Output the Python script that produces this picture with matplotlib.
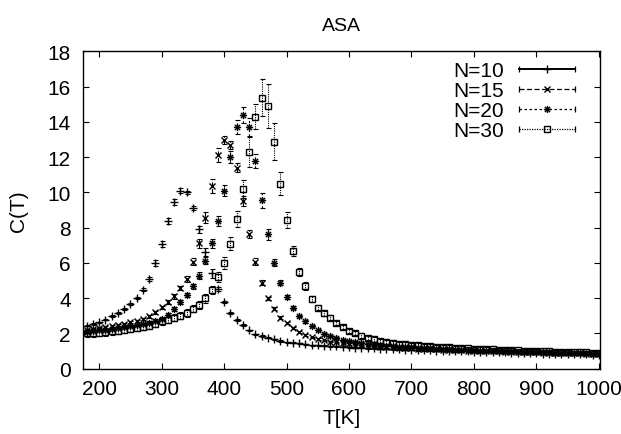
# Import libraries
import matplotlib
matplotlib.use('Agg')
import matplotlib.pyplot as plt
from matplotlib.lines import Line2D
from matplotlib.path import Path
from matplotlib.legend_handler import HandlerBase
import numpy as np

# Temperatures, 180 K to 1000 K in steps of 10 K
temps = np.arange(180, 1001, 10)

# Specific heat C(T) for each chain length
c_n10 = [2.44, 2.53, 2.63, 2.78, 2.97, 3.18, 3.39, 3.67, 3.99, 4.48,
         5.09, 6.00, 7.09, 8.36, 9.45, 10.10, 10.00, 9.10, 7.90, 6.60,
         5.40, 4.50, 3.78, 3.17, 2.76, 2.48, 2.17, 1.95, 1.86, 1.76,
         1.67, 1.57, 1.51, 1.46, 1.44, 1.38, 1.34, 1.32, 1.30, 1.28,
         1.26, 1.24, 1.22, 1.20, 1.18, 1.17, 1.15, 1.13, 1.12, 1.10,
         1.09, 1.08, 1.07, 1.06, 1.05, 1.04, 1.03, 1.02, 1.01, 1.00,
         0.99, 0.98, 0.97, 0.96, 0.95, 0.94, 0.93, 0.92, 0.91, 0.90,
         0.89, 0.88, 0.87, 0.86, 0.85, 0.85, 0.84, 0.83, 0.82, 0.82,
         0.81, 0.80, 0.80]
e_n10 = [0.04, 0.04, 0.04, 0.04, 0.05, 0.05, 0.05, 0.06, 0.06, 0.08,
         0.10, 0.17, 0.17, 0.17, 0.17, 0.15, 0.10, 0.10, 0.20, 0.22,
         0.25, 0.12, 0.08, 0.06, 0.05, 0.04, 0.04, 0.04, 0.04, 0.04,
         0.03, 0.03, 0.03, 0.03, 0.03, 0.03, 0.03, 0.03, 0.03, 0.03,
         0.03, 0.03, 0.03, 0.03, 0.03, 0.03, 0.03, 0.03, 0.03, 0.03,
         0.03, 0.03, 0.03, 0.03, 0.03, 0.03, 0.03, 0.03, 0.03, 0.03,
         0.03, 0.03, 0.03, 0.03, 0.03, 0.03, 0.03, 0.03, 0.03, 0.03,
         0.03, 0.03, 0.03, 0.03, 0.03, 0.03, 0.03, 0.03, 0.03, 0.03,
         0.03, 0.03, 0.03]

c_n15 = [2.20, 2.25, 2.30, 2.36, 2.42, 2.48, 2.55, 2.63, 2.72, 2.82,
         2.97, 3.20, 3.48, 3.77, 4.10, 4.58, 5.09, 6.07, 7.11, 8.57,
         10.37, 12.10, 12.97, 12.70, 11.40, 9.50, 7.62, 6.07, 4.88, 3.99,
         3.40, 2.90, 2.61, 2.33, 2.08, 1.90, 1.78, 1.68, 1.60, 1.54,
         1.49, 1.44, 1.40, 1.36, 1.33, 1.30, 1.27, 1.25, 1.23, 1.21,
         1.19, 1.17, 1.15, 1.13, 1.12, 1.10, 1.09, 1.07, 1.06, 1.05,
         1.04, 1.03, 1.02, 1.01, 1.00, 0.99, 0.98, 0.97, 0.96, 0.95,
         0.94, 0.93, 0.92, 0.91, 0.90, 0.90, 0.89, 0.88, 0.87, 0.87,
         0.86, 0.85, 0.85]
e_n15 = [0.05, 0.05, 0.05, 0.05, 0.05, 0.05, 0.06, 0.06, 0.07, 0.07,
         0.08, 0.09, 0.10, 0.11, 0.12, 0.13, 0.15, 0.18, 0.25, 0.33,
         0.38, 0.40, 0.22, 0.24, 0.25, 0.28, 0.22, 0.18, 0.14, 0.10,
         0.08, 0.07, 0.06, 0.05, 0.05, 0.04, 0.04, 0.04, 0.04, 0.04,
         0.04, 0.04, 0.04, 0.04, 0.04, 0.04, 0.04, 0.04, 0.04, 0.04,
         0.04, 0.04, 0.04, 0.04, 0.04, 0.04, 0.04, 0.04, 0.04, 0.04,
         0.04, 0.04, 0.04, 0.04, 0.04, 0.04, 0.04, 0.04, 0.04, 0.04,
         0.04, 0.04, 0.04, 0.04, 0.04, 0.04, 0.04, 0.04, 0.04, 0.04,
         0.04, 0.04, 0.04]

c_n20 = [2.10, 2.13, 2.17, 2.21, 2.25, 2.30, 2.35, 2.41, 2.47, 2.54,
         2.62, 2.72, 2.84, 3.05, 3.39, 3.77, 4.18, 4.67, 5.28, 6.13,
         7.11, 8.40, 10.10, 12.00, 13.70, 14.40, 13.70, 11.80, 9.56, 7.62,
         6.00, 4.88, 4.07, 3.46, 2.99, 2.68, 2.40, 2.18, 1.98, 1.85,
         1.74, 1.65, 1.58, 1.52, 1.47, 1.42, 1.38, 1.34, 1.31, 1.28,
         1.25, 1.23, 1.21, 1.19, 1.17, 1.15, 1.13, 1.11, 1.10, 1.08,
         1.07, 1.05, 1.04, 1.03, 1.02, 1.01, 1.00, 0.99, 0.98, 0.97,
         0.96, 0.95, 0.94, 0.93, 0.92, 0.91, 0.90, 0.89, 0.88, 0.88,
         0.87, 0.86, 0.86]
e_n20 = [0.06, 0.06, 0.06, 0.06, 0.06, 0.06, 0.06, 0.06, 0.07, 0.07,
         0.07, 0.08, 0.09, 0.10, 0.11, 0.12, 0.14, 0.16, 0.20, 0.22,
         0.25, 0.28, 0.30, 0.35, 0.40, 0.45, 0.50, 0.40, 0.43, 0.30,
         0.20, 0.15, 0.12, 0.10, 0.08, 0.07, 0.06, 0.05, 0.05, 0.05,
         0.05, 0.05, 0.05, 0.05, 0.05, 0.05, 0.05, 0.05, 0.05, 0.05,
         0.05, 0.05, 0.05, 0.05, 0.05, 0.05, 0.05, 0.05, 0.05, 0.05,
         0.05, 0.05, 0.05, 0.05, 0.05, 0.05, 0.05, 0.05, 0.05, 0.05,
         0.05, 0.05, 0.05, 0.05, 0.05, 0.05, 0.05, 0.05, 0.05, 0.05,
         0.05, 0.05, 0.05]

c_n30 = [2.00, 2.02, 2.05, 2.08, 2.12, 2.16, 2.21, 2.26, 2.32, 2.38,
         2.45, 2.55, 2.69, 2.78, 2.88, 3.00, 3.16, 3.39, 3.63, 3.99,
         4.46, 5.18, 6.00, 7.10, 8.50, 10.20, 12.29, 14.30, 15.37, 14.90,
         12.88, 10.50, 8.42, 6.68, 5.48, 4.69, 3.97, 3.46, 3.14, 2.89,
         2.60, 2.35, 2.16, 2.03, 1.88, 1.76, 1.66, 1.57, 1.51, 1.46,
         1.42, 1.38, 1.35, 1.32, 1.29, 1.27, 1.25, 1.23, 1.21, 1.19,
         1.17, 1.15, 1.14, 1.12, 1.11, 1.09, 1.08, 1.06, 1.05, 1.04,
         1.03, 1.01, 1.00, 0.99, 0.98, 0.97, 0.96, 0.95, 0.94, 0.93,
         0.92, 0.91, 0.90]
e_n30 = [0.20, 0.20, 0.20, 0.20, 0.20, 0.20, 0.20, 0.20, 0.20, 0.20,
         0.20, 0.20, 0.20, 0.20, 0.20, 0.20, 0.20, 0.20, 0.22, 0.25,
         0.25, 0.28, 0.32, 0.35, 0.45, 0.50, 0.85, 0.70, 1.05, 1.25,
         1.03, 0.63, 0.45, 0.27, 0.22, 0.20, 0.18, 0.15, 0.14, 0.13,
         0.12, 0.12, 0.12, 0.12, 0.12, 0.12, 0.12, 0.12, 0.12, 0.12,
         0.11, 0.11, 0.11, 0.11, 0.11, 0.11, 0.11, 0.11, 0.11, 0.11,
         0.10, 0.10, 0.10, 0.10, 0.10, 0.10, 0.10, 0.10, 0.10, 0.10,
         0.09, 0.09, 0.09, 0.09, 0.09, 0.09, 0.09, 0.09, 0.09, 0.09,
         0.08, 0.08, 0.08]

labels = ['N=10', 'N=15', 'N=20', 'N=30']
x_ticks = [200, 300, 400, 500, 600, 700, 800, 900, 1000]
y_ticks = [0, 2, 4, 6, 8, 10, 12, 14, 16, 18]

# gnuplot style point type 3: a '+' on top of an 'x'
asterisk = Path([(-1, 0), (1, 0), (0, -1), (0, 1),
                 (-0.72, -0.72), (0.72, 0.72), (-0.72, 0.72), (0.72, -0.72)],
                [Path.MOVETO, Path.LINETO] * 4)

# Line style of each series, keyed by legend label
dash_styles = {'N=10': '-', 'N=15': (0, (4, 2)),
               'N=20': (0, (2, 2)), 'N=30': (0, (1, 1))}


class CapLineHandler(HandlerBase):
    """ Legend entry drawn the gnuplot way: a horizontal bar with
        end caps and the point symbol in the middle. """
    def create_artists(self, legend, orig, xdescent, ydescent, width,
                       height, fontsize, trans):
        y = height / 2.0 - ydescent
        x0, x1 = -xdescent, width - xdescent
        bar = Line2D([x0, x1], [y, y], color='k',
                     linestyle=dash_styles[orig.get_label()],
                     linewidth=orig.get_linewidth())
        caps = Line2D([x0, x1], [y, y], linestyle='none', marker='|',
                      markersize=5, markeredgewidth=0.9, color='k')
        mark = Line2D([(x0 + x1) / 2.0], [y], linestyle='none',
                      marker=orig.get_marker(),
                      markersize=orig.get_markersize(),
                      markeredgewidth=1.0, markerfacecolor='none',
                      color='k')
        for a in (bar, caps, mark):
            a.set_transform(trans)
        return [bar, caps, mark]


def plotData():
    """ Draw the four specific heat curves with error bars. """
    plt.rcParams['font.family'] = ['Liberation Sans', 'DejaVu Sans']
    fig = plt.figure(figsize=(6.21, 4.35), dpi=100)
    ax = fig.add_axes([0.1341, 0.1501, 0.8321, 0.7297])

    series = [(c_n10, e_n10, '+', 5.4, 1.4),
              (c_n15, e_n15, 'x', 4.4, 0.9),
              (c_n20, e_n20, asterisk, 5.2, 0.9),
              (c_n30, e_n30, 's', 5.0, 0.9)]

    handles = []
    for (vals, errs, mk, ms, lw), lab in zip(series, labels):
        ls = dash_styles[lab]
        eb = ax.errorbar(temps, vals, yerr=errs, fmt='none', ecolor='k',
                         elinewidth=0.8, capsize=1.8, capthick=0.8)
        eb[2][0].set_linestyle(ls)
        ax.plot(temps, vals, linestyle='none', marker=mk, markersize=ms,
                markeredgewidth=1.0, markerfacecolor='none',
                markeredgecolor='k')
        handles.append(Line2D([], [], color='k', linestyle=ls,
                              linewidth=lw, marker=mk, markersize=ms,
                              label=lab))

    ax.set_xlim(174.5, 1002)
    ax.set_ylim(0, 18)
    ax.set_xticks(x_ticks)
    ax.set_yticks(y_ticks)
    ax.tick_params(direction='in', top=True, right=True, length=4,
                   width=0.8, labelsize=15)
    ax.tick_params(axis='x', pad=7.5)
    ax.tick_params(axis='y', pad=9)
    for sp in ax.spines.values():
        sp.set_linewidth(1.0)

    ax.set_xlabel('T[K]', fontsize=15, labelpad=7)
    ax.set_ylabel('C(T)', fontsize=15, labelpad=14)
    ax.set_title('ASA', fontsize=14, pad=15)

    ax.legend(handles, labels, loc='upper right',
              bbox_to_anchor=(0.952, 0.97), frameon=False, fontsize=15,
              markerfirst=False, handlelength=2.7, handletextpad=0.7,
              labelspacing=0.05, borderpad=0, borderaxespad=0,
              handler_map={Line2D: CapLineHandler()})

    fig.savefig('out.png', dpi=100)


if __name__ == "__main__":
    plotData()
